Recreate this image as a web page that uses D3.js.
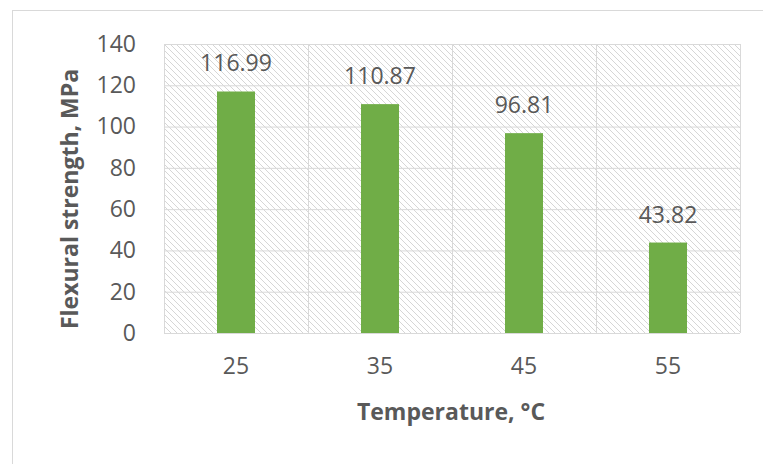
<!DOCTYPE html>
<html>
<head>
<meta charset="utf-8">
<script src="https://cdnjs.cloudflare.com/ajax/libs/d3/7.8.5/d3.min.js"></script>
<style>
  body { margin: 0; background: #fff; }
  text { font-family: "Open Sans", "Liberation Sans", sans-serif; fill: #595959; }
</style>
</head>
<body>
<svg width="763" height="464"></svg>
<script>
// data
var temps = ["25", "35", "45", "55"];
var strength = [116.99, 110.87, 96.81, 43.82];
var yTicks = [0, 20, 40, 60, 80, 100, 120, 140];

var svg = d3.select("svg"),
    margin = {top: 44, right: 23, bottom: 131, left: 164},
    width = 763 - margin.left - margin.right,
    height = 464 - margin.top - margin.bottom;

// chart frame
svg.append("rect")
    .attr("x", 12.5).attr("y", 10.5)
    .attr("width", 800).attr("height", 500)
    .attr("fill", "#fff")
    .attr("stroke", "#d9d9d9")
    .attr("stroke-width", 1);

// diagonal hatch for the plot area
var pat = svg.append("defs").append("pattern")
    .attr("id", "hatch")
    .attr("patternUnits", "userSpaceOnUse")
    .attr("width", 6).attr("height", 6);
pat.append("path")
    .attr("d", "M-1,-1L7,7M-1,5L1,7M5,-1L7,1")
    .attr("stroke", "#d6d6d6")
    .attr("stroke-width", 1);

var g = svg.append("g").attr("transform", "translate(" + margin.left + "," + margin.top + ")");

var x = d3.scaleBand()
    .domain(temps)
    .range([0, width])
    .paddingInner(0.736)
    .paddingOuter(0.368);

var y = d3.scaleLinear()
    .domain([0, 140])
    .range([height, 0]);

g.append("rect")
    .attr("width", width).attr("height", height)
    .attr("fill", "url(#hatch)");

// horizontal gridlines
g.append("g")
    .call(d3.axisLeft(y).tickValues(yTicks).tickSize(-width).tickFormat(""))
    .call(function(a) {
      a.select(".domain").remove();
      a.selectAll("line").attr("stroke", "#d9d9d9");
    });

// vertical lines at category boundaries
var step = width / temps.length;
g.append("g").selectAll("line")
    .data(d3.range(temps.length + 1))
    .enter().append("line")
    .attr("x1", function(i) { return Math.round(i * step) + 0.5; })
    .attr("x2", function(i) { return Math.round(i * step) + 0.5; })
    .attr("y1", 0).attr("y2", height)
    .attr("stroke", "#d9d9d9");

g.selectAll(".bar")
    .data(strength)
    .enter().append("rect")
    .attr("class", "bar")
    .attr("x", function(d, i) { return x(temps[i]); })
    .attr("y", function(d) { return y(d); })
    .attr("width", x.bandwidth())
    .attr("height", function(d) { return height - y(d); })
    .attr("fill", "#70ad47");

g.selectAll(".lbl")
    .data(strength)
    .enter().append("text")
    .attr("class", "lbl")
    .attr("x", function(d, i) { return x(temps[i]) + x.bandwidth() / 2; })
    .attr("y", function(d) { return y(d) - 20; })
    .attr("text-anchor", "middle")
    .style("font-size", "23px")
    .text(function(d) { return d.toFixed(2); });

// y tick labels
g.append("g")
    .call(d3.axisLeft(y).tickValues(yTicks).tickSize(0).tickPadding(28))
    .call(function(a) {
      a.select(".domain").remove();
      a.selectAll("text").style("font-size", "23px").attr("fill", "#595959");
    });

// x tick labels
g.append("g")
    .attr("transform", "translate(0," + height + ")")
    .call(d3.axisBottom(x).tickSize(0).tickPadding(25))
    .call(function(a) {
      a.select(".domain").remove();
      a.selectAll("text").style("font-size", "23px").attr("fill", "#595959");
    });

svg.append("text")
    .attr("x", 451).attr("y", 420)
    .attr("text-anchor", "middle")
    .style("font-size", "23px").style("font-weight", "bold")
    .text("Temperature, °C");

svg.append("text")
    .attr("transform", "translate(78,199) rotate(-90)")
    .attr("text-anchor", "middle")
    .style("font-size", "23px").style("font-weight", "bold")
    .text("Flexural strength, MPa");
</script>
</body>
</html>
